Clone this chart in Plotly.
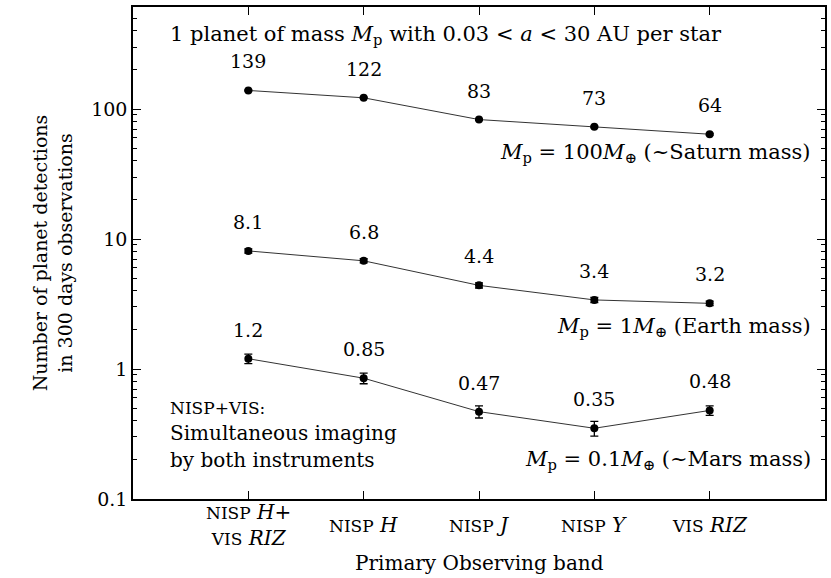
import math
import plotly.graph_objects as go

# Observing bands (categorical positions 0..4)
SC = "<span style='font-size:17px'>{}</span>"
bands = [
    SC.format("NISP") + " <i>H</i>+<br>" + SC.format("VIS") + " <i>RIZ</i>",
    SC.format("NISP") + " <i>H</i>",
    SC.format("NISP") + " <i>J</i>",
    SC.format("NISP") + " <i>Y</i>",
    SC.format("VIS") + " <i>RIZ</i>",
]
xpos = [0, 1, 2, 3, 4]

# Expected detections per planet mass
saturn = [139, 122, 83, 73, 64]
saturn_err = [1.5, 1.4, 1.1, 1.0, 1.0]
earth = [8.1, 6.8, 4.4, 3.4, 3.2]
earth_err = [0.3, 0.25, 0.2, 0.15, 0.13]
mars = [1.2, 0.85, 0.47, 0.35, 0.48]
mars_err = [0.1, 0.08, 0.05, 0.045, 0.04]

saturn_lbl = ["139", "122", "83", "73", "64"]
earth_lbl = ["8.1", "6.8", "4.4", "3.4", "3.2"]
mars_lbl = ["1.2", "0.85", "0.47", "0.35", "0.48"]

FONT = "DejaVu Serif"
FS = 19
fig = go.Figure()

for vals, errs, lbls in [(saturn, saturn_err, saturn_lbl),
                         (earth, earth_err, earth_lbl),
                         (mars, mars_err, mars_lbl)]:
    fig.add_trace(go.Scatter(
        x=xpos, y=vals, mode="lines+markers",
        line=dict(color="#333333", width=1),
        marker=dict(color="black", size=8),
        error_y=dict(type="data", array=errs, color="black",
                     thickness=1.3, width=4),
        showlegend=False,
    ))
    for x, v, t in zip(xpos, vals, lbls):
        fig.add_annotation(x=x, y=math.log10(v), text=t, showarrow=False,
                           xanchor="center", yanchor="middle", yshift=29,
                           font=dict(family=FONT, size=FS, color="black"))

# Band labels, each centred vertically just below the axis
for x, t in zip(xpos, bands):
    fig.add_annotation(x=x, y=0, xref="x", yref="paper", text=t,
                       showarrow=False, xanchor="center", yanchor="middle",
                       yshift=-26, font=dict(family=FONT, size=20, color="black"))

def note(x, y, text, anchor="left", size=20):
    fig.add_annotation(x=x, y=y, xref="paper", yref="paper", text=text,
                       showarrow=False, xanchor=anchor, yanchor="middle",
                       align=anchor,
                       font=dict(family=FONT, size=size, color="black"))

note(0.05, 0.943,
     "1 planet of mass <i>M</i><sub>p</sub> with 0.03 &lt; <i>a</i> &lt; 30 AU per star", size=21)
note(0.983, 0.703, "<i>M</i><sub>p</sub> = 100<i>M</i><sub>⊕</sub> (~Saturn mass)", "right", 21)
note(0.983, 0.350, "<i>M</i><sub>p</sub> = 1<i>M</i><sub>⊕</sub> (Earth mass)", "right", 21)
note(0.983, 0.079, "<i>M</i><sub>p</sub> = 0.1<i>M</i><sub>⊕</sub> (~Mars mass)", "right", 21)
note(0.05, 0.185, SC.format("NISP+VIS:"))
note(0.05, 0.134, "Simultaneous imaging")
note(0.05, 0.079, "by both instruments")
note(0.5, 0, "Primary Observing band", "center")
fig.layout.annotations[-1].update(yshift=-64)

fig.update_layout(
    width=831, height=578,
    margin=dict(l=133, r=4, t=7, b=79),
    paper_bgcolor="white", plot_bgcolor="white",
    font=dict(family=FONT, size=FS, color="black"),
    xaxis=dict(
        range=[-1, 5], tickvals=xpos, showticklabels=False,
        ticks="inside", ticklen=8, tickcolor="black",
        showline=True, linecolor="black", linewidth=1.5, mirror="ticks",
        showgrid=False, zeroline=False,
    ),
    yaxis=dict(
        type="log", range=[-1, 2.785],
        tickvals=[0.1, 1, 10, 100], ticktext=["0.1", "1", "10", "100"],
        ticks="inside", ticklen=8, tickcolor="black",
        minor=dict(ticks="inside", ticklen=4, tickcolor="black",
                   tickvals=[m * 10 ** e for e in (-1, 0, 1, 2) for m in range(2, 10)],
                   showgrid=False),
        showline=True, linecolor="black", linewidth=1.5, mirror="ticks",
        showgrid=False, zeroline=False,
        title=dict(text="Number of planet detections<br>in 300 days observations",
                   standoff=14, font=dict(family=FONT, size=FS)),
        tickfont=dict(family=FONT, size=FS),
    ),
)

fig.write_html("out.html")
